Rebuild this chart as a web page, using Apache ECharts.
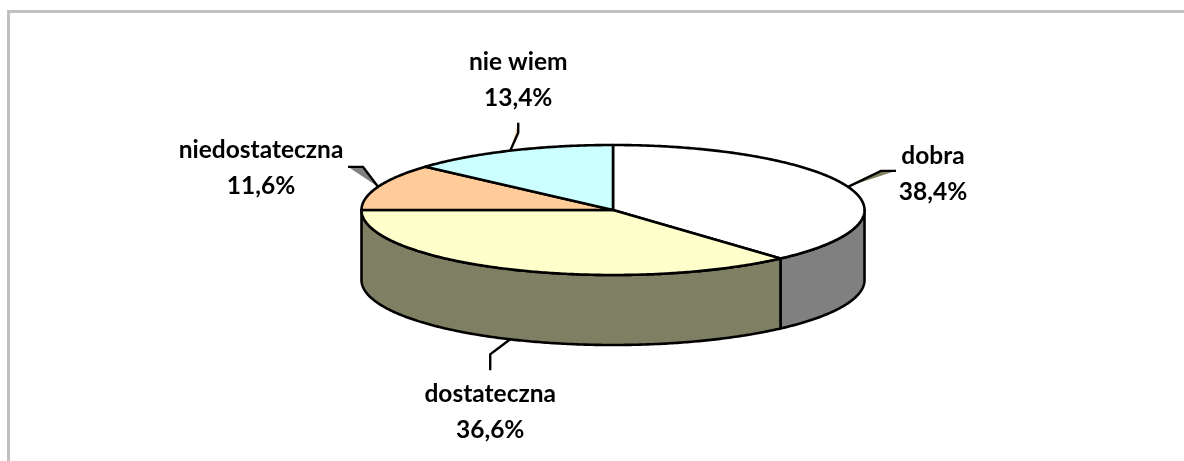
<!DOCTYPE html>
<html>
<head>
<meta charset="utf-8">
<style>html,body{margin:0;padding:0;background:#fff}#c{width:1184px;height:461px}</style>
<script src="https://cdn.jsdelivr.net/npm/echarts@6/dist/echarts.min.js"></script>
</head>
<body>
<div id="c"></div>
<script>
const categories = ['dobra', 'dostateczna', 'niedostateczna', 'nie wiem'];
const percentages = [38.4, 36.6, 11.6, 13.4];
const valueLabels = ['38,4%', '36,6%', '11,6%', '13,4%'];
const topColors = ['#FFFFFF', '#FFFFCC', '#FFCC99', '#CCFFFF'];
const wallColors = ['#808080', '#7F7F63', '#808040', '#408080'];
const leaderShades = ['#808060', 'none', '#808080', '#FFCC99'];

// Layout only
const CX = 613, CY = 210, RX = 251.5, RY = 65, DEPTH = 70;
const FONT = 'Lato, Carlito, "Open Sans", sans-serif';
const leaderOffsets = [[[33, -16], [48, -16]], [[-20, 15], [-20, 31]], [[-15, -20], [-30, -20]], [[8, -18], [8, -28]]];
const labelOffsets = [[85, -13], [-20, 73], [-117, -19], [8, -71]];
const onWall = [0, 1, 0, 0];

const total = percentages.reduce((a, b) => a + b, 0);
function px(a) { return CX + RX * Math.sin(a); }
function py(a) { return CY - RY * Math.cos(a); }
function rad(p) { return p / total * Math.PI * 2; }
const starts = [];
percentages.reduce((acc, v, i) => { starts[i] = acc; return acc + v; }, 0);
function arc(a0, a1, dy) {
  const n = Math.max(2, Math.ceil(Math.abs(a1 - a0) / 0.01));
  const pts = [];
  for (let k = 0; k <= n; k++) {
    const a = a0 + (a1 - a0) * k / n;
    pts.push([px(a), py(a) + dy]);
  }
  return pts;
}
const line = { stroke: '#000', lineWidth: 2.6, lineJoin: 'round' };
const seriesData = percentages.map((v, i) => [i, v]);

function renderWall(params, api) {
  const i = api.value(0);
  const a0 = Math.max(rad(starts[i]), Math.PI / 2);
  const a1 = Math.min(rad(starts[i] + api.value(1)), Math.PI * 3 / 2);
  if (a1 <= a0) return { type: 'group', children: [] };
  const pts = arc(a0, a1, 0).concat(arc(a1, a0, DEPTH));
  return { type: 'polygon', shape: { points: pts }, style: Object.assign({ fill: wallColors[i] }, line) };
}
function renderTop(params, api) {
  const i = api.value(0);
  const a0 = rad(starts[i]), a1 = rad(starts[i] + api.value(1));
  const pts = [[CX, CY]].concat(arc(a0, a1, 0));
  return { type: 'polygon', shape: { points: pts }, style: Object.assign({ fill: topColors[i] }, line) };
}
function renderLeader(params, api) {
  const i = api.value(0);
  const mid = rad(starts[i] + api.value(1) / 2);
  const ax = px(mid), ay = py(mid) + (onWall[i] ? DEPTH : 0);
  const o = leaderOffsets[i];
  const p1 = [ax + o[0][0], ay + o[0][1]], p2 = [ax + o[1][0], ay + o[1][1]];
  return {
    type: 'group',
    children: [
      { type: 'polygon', shape: { points: [[ax, ay], p1, p2] }, style: { fill: leaderShades[i] } },
      { type: 'polyline', shape: { points: [[ax, ay], p1, p2] }, style: { fill: null, stroke: '#000', lineWidth: 2.4, lineJoin: 'miter' } },
      { type: 'text', style: {
          x: ax + labelOffsets[i][0], y: ay + labelOffsets[i][1],
          text: categories[i] + '\n' + valueLabels[i],
          fill: '#000', font: 'bold 24.5px ' + FONT, lineHeight: 36,
          align: 'center', verticalAlign: 'middle' } }
    ]
  };
}

const chart = echarts.init(document.getElementById('c'), null, { renderer: 'canvas' });
const base = { type: 'custom', coordinateSystem: 'none', data: seriesData, animation: false, silent: true, clip: false };
chart.setOption({
  backgroundColor: '#ffffff',
  animation: false,
  graphic: [{
    type: 'polyline',
    shape: { points: [[8.5, 461], [8.5, 11.5], [1184, 11.5]] },
    style: { fill: null, stroke: '#C0C0C0', lineWidth: 3 }
  }],
  series: [
    Object.assign({ renderItem: renderWall, z: 2 }, base),
    Object.assign({ renderItem: renderTop, z: 3 }, base),
    Object.assign({ renderItem: renderLeader, z: 1 }, base)
  ]
});
</script>
</body>
</html>
